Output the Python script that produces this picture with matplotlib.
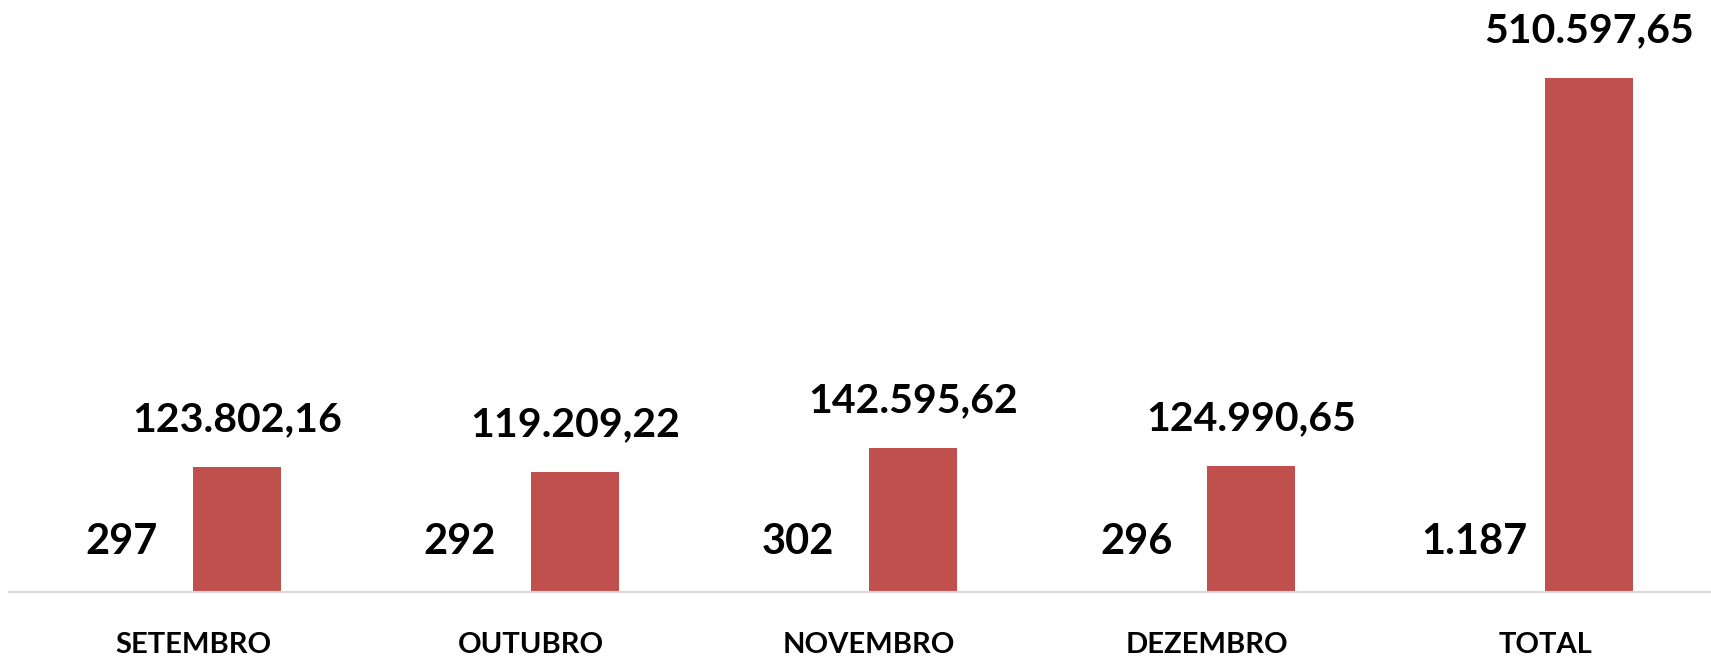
import numpy as np
import matplotlib
matplotlib.use("Agg")
from matplotlib import pyplot as plt

meses = ["SETEMBRO", "OUTUBRO", "NOVEMBRO", "DEZEMBRO", "TOTAL"]
quantidade = [297, 292, 302, 296, 1187]
valores = [123802.16, 119209.22, 142595.62, 124990.65, 510597.65]

RED = "#C0504D"


def fmt_br(v, casas=2):
    # 1234.5 -> 1.234,50
    s = f"{v:,.{casas}f}"
    return s.replace(",", "X").replace(".", ",").replace("X", ".")


plt.rcParams['font.family'] = ['Lato', 'DejaVu Sans']

fig = plt.figure(figsize=(17.11, 6.61), dpi=100)
ax = fig.add_axes([9 / 1711, 69 / 661, 1 - 9 / 1711, 592 / 661])

x = np.arange(len(meses))
w = 0.26

# quantidade bars are invisible at this scale (drawn at true value)
ax.bar(x - w, quantidade, width=w, align='edge', color=RED)
bars = ax.bar(x, valores, width=w, align='edge', color=RED)

for xi, q in zip(x, quantidade):
    ax.annotate(fmt_br(q, 0), (xi - 0.21, 0), xytext=(0, 36),
                textcoords='offset points', ha='center', va='center',
                fontsize=30, fontweight='bold', color='black')

for b, v in zip(bars, valores):
    ax.annotate(fmt_br(v), (b.get_x() + b.get_width() / 2, b.get_height()),
                xytext=(0, 34), textcoords='offset points',
                ha='center', va='center', fontsize=29.5, fontweight='bold',
                color='black')

ax.set_ylim(0, 510597.65 * 592 / 514.5)
ax.set_xlim(-0.544, 4.49)

ax.set_xticks(x)
ax.set_xticklabels(meses, fontsize=21, fontweight='bold')
ax.tick_params(axis='x', length=0, pad=29)
ax.set_yticks([])

for s in ['top', 'right', 'left']:
    ax.spines[s].set_visible(False)
ax.spines['bottom'].set_color('#D9D9D9')
ax.spines['bottom'].set_linewidth(1.5)

fig.savefig("out.png", dpi=100)
